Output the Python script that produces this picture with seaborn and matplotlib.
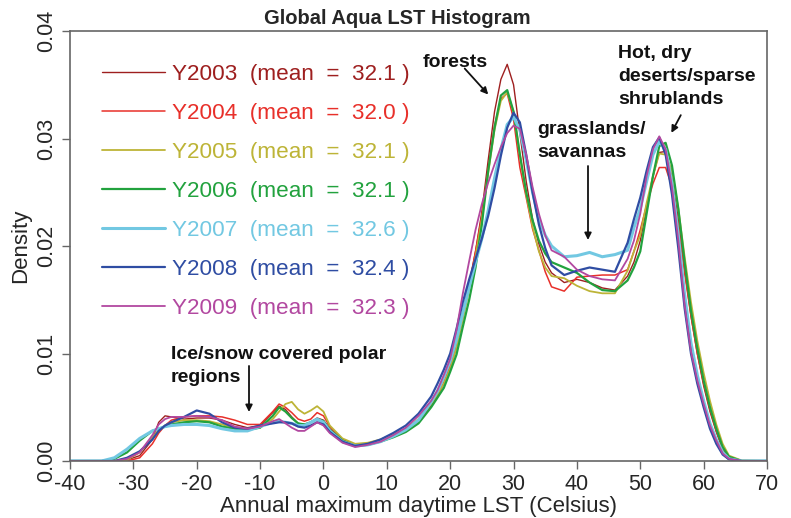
import numpy as np
import pandas as pd
import matplotlib
matplotlib.use("Agg")
import matplotlib.pyplot as plt
import seaborn as sns

lst = [-40, -35, -33, -31, -29, -27, -26, -25, -24, -22, -20, -18, -16, -14, -12, -10, -8,
       -7, -6, -5, -4, -3, -2, -1, 0, 1, 3, 5, 7, 9, 11, 13, 15,
       17, 18, 19, 20, 21, 22, 23, 24, 25, 26, 27, 28, 29, 30, 31, 32, 33, 34, 35, 36,
       38, 40, 42, 44, 46, 48,
       49, 50, 51, 52, 53, 54, 55, 56, 57, 58, 59, 60, 61, 62, 63, 64, 66, 70]

# density values x 1e-3
y2003 = [0, 0, 0, 0.1, 0.5, 2.0, 3.6, 4.2, 4.1, 3.9, 4.0, 4.0, 3.8, 3.4, 3.1, 3.3, 4.5,
         5.1, 4.8, 4.1, 3.5, 3.4, 3.6, 4.0, 3.8, 3.0, 2.0, 1.5, 1.5, 1.8, 2.3, 2.8, 3.7,
         5.2, 6.1, 7.2, 8.7, 10.7, 13.5, 16.3, 19.5, 23.2, 28.0, 32.5, 35.5, 36.9, 35.0, 30.5, 26.0, 22.5, 20.2, 18.5, 17.5,
         16.6, 16.9, 16.6, 16.1, 15.9, 17.2,
         18.5, 20.5, 23.5, 26.5, 28.7, 28.8, 26.5, 22.5, 17.8, 13.5, 10.0, 7.0, 4.6, 2.7, 1.1, 0.3, 0, 0]
y2004 = [0, 0, 0, 0, 0.3, 1.6, 2.6, 3.3, 3.8, 4.1, 4.2, 4.2, 4.1, 3.8, 3.4, 3.4, 4.6,
         5.3, 5.0, 4.5, 3.9, 3.7, 3.9, 4.5, 4.2, 3.2, 2.0, 1.4, 1.5, 1.8, 2.3, 2.9, 3.8,
         5.3, 6.2, 7.3, 8.9, 10.9, 13.8, 16.5, 19.5, 22.8, 27.2, 31.2, 33.7, 34.2, 31.8, 27.3, 24.5, 21.6, 19.6, 17.6, 16.2,
         15.8, 17.1, 17.2, 17.3, 17.3, 17.8,
         19.5, 21.5, 23.8, 25.8, 27.3, 27.3, 25.5, 22.0, 17.5, 13.5, 10.0, 7.2, 4.8, 2.8, 1.2, 0.3, 0, 0]
y2005 = [0, 0, 0, 0.1, 0.8, 2.2, 2.9, 3.3, 3.6, 3.8, 3.8, 3.7, 3.4, 3.1, 3.0, 3.1, 3.9,
         4.6, 5.3, 5.5, 4.8, 4.4, 4.7, 5.1, 4.6, 3.3, 2.1, 1.6, 1.7, 2.0, 2.5, 3.0, 3.9,
         5.3, 6.2, 7.2, 8.6, 10.5, 13.2, 16.0, 19.0, 22.5, 26.8, 30.8, 33.5, 34.3, 32.5, 28.5, 24.8, 21.8, 19.5, 18.0, 17.2,
         17.0, 16.3, 15.8, 15.6, 15.6, 17.7,
         19.5, 21.0, 24.0, 26.5, 28.6, 28.5, 27.0, 23.5, 19.0, 14.8, 11.2, 8.2, 5.6, 3.4, 1.6, 0.5, 0.05, 0]
y2006 = [0, 0, 0.2, 0.8, 1.9, 2.8, 3.0, 3.2, 3.4, 3.6, 3.7, 3.6, 3.2, 3.0, 2.9, 3.1, 4.2,
         5.0, 4.6, 4.0, 3.5, 3.4, 3.6, 3.9, 3.7, 2.9, 1.9, 1.4, 1.5, 1.8, 2.2, 2.7, 3.5,
         5.0, 5.9, 6.8, 8.3, 9.9, 12.5, 15.0, 18.0, 22.0, 27.0, 31.0, 34.0, 34.5, 32.5, 28.5, 25.0, 22.4, 20.5, 19.3, 18.5,
         18.0, 17.5, 16.6, 15.9, 15.8, 16.8,
         18.0, 19.5, 23.0, 26.5, 29.3, 29.6, 27.5, 23.5, 18.5, 14.0, 10.5, 7.5, 5.0, 3.0, 1.3, 0.4, 0, 0]
y2007 = [0, 0, 0.3, 1.1, 2.1, 2.8, 3.0, 3.2, 3.3, 3.4, 3.4, 3.3, 3.0, 2.8, 2.8, 3.2, 3.6,
         3.7, 3.6, 3.5, 3.3, 3.3, 3.6, 3.9, 3.6, 2.8, 1.8, 1.4, 1.5, 1.8, 2.3, 2.9, 3.8,
         5.5, 6.5, 7.8, 9.3, 11.3, 13.8, 16.2, 18.5, 20.7, 23.3, 26.3, 29.0, 31.3, 32.0, 30.8, 28.0, 25.0, 22.5, 21.0, 20.0,
         19.0, 19.1, 19.4, 19.0, 19.2, 19.6,
         21.7, 23.5, 26.0, 28.5, 29.7, 29.0, 25.8, 21.0, 15.5, 11.0, 8.0, 5.6, 3.5, 2.0, 0.8, 0.2, 0, 0]
y2008 = [0, 0, 0, 0.3, 0.9, 2.0, 2.8, 3.3, 3.6, 4.1, 4.7, 4.4, 3.6, 3.1, 3.0, 3.3, 3.5,
         3.6, 3.6, 3.5, 3.2, 3.1, 3.3, 3.6, 3.4, 2.7, 1.8, 1.4, 1.6, 2.0, 2.6, 3.3, 4.4,
         6.0, 7.2, 8.5, 10.0, 12.3, 14.8, 16.9, 18.8, 20.7, 22.8, 25.4, 28.4, 31.0, 32.4, 31.5, 28.5, 25.0, 22.0, 19.8, 18.2,
         17.3, 17.7, 18.0, 17.8, 17.6, 20.3,
         22.5, 24.5, 27.0, 29.2, 30.1, 28.5, 24.8, 19.8, 14.2, 10.0, 7.2, 5.0, 3.0, 1.6, 0.6, 0.15, 0, 0]
y2009 = [0, 0, 0, 0.2, 0.8, 2.4, 3.4, 3.9, 4.1, 4.1, 4.2, 4.1, 3.8, 3.2, 3.0, 3.2, 3.7,
         3.9, 3.5, 3.1, 2.8, 2.8, 3.2, 3.6, 3.3, 2.6, 1.7, 1.3, 1.5, 1.8, 2.4, 3.1, 4.2,
         5.6, 6.6, 8.0, 9.5, 12.2, 15.6, 18.6, 21.5, 23.9, 25.9, 27.6, 29.2, 30.5, 31.2, 30.9, 28.5, 25.5, 23.0, 21.0, 19.6,
         19.0, 17.8, 17.2, 16.9, 16.8, 18.8,
         20.5, 23.0, 26.5, 29.0, 30.2, 29.0, 25.5, 20.5, 14.5, 10.2, 7.5, 5.3, 3.3, 1.9, 0.7, 0.2, 0, 0]

years = ["Y2003", "Y2004", "Y2005", "Y2006", "Y2007", "Y2008", "Y2009"]
means = ["32.1", "32.0", "32.1", "32.1", "32.6", "32.4", "32.3"]
series = [y2003, y2004, y2005, y2006, y2007, y2008, y2009]
colors = ["#9E1F1F", "#E8302A", "#BDB437", "#22A23E", "#72C8E2", "#2F4DA3", "#B248A0"]
widths = [1.0, 1.1, 1.3, 1.6, 2.2, 1.6, 1.3]

rows = []
for year, vals in zip(years, series):
    for t, v in zip(lst, vals):
        rows.append({"LST": t, "Density": v / 1000.0, "Year": year})
df = pd.DataFrame(rows)

sns.set_style("ticks")
plt.rcParams["font.family"] = ["Liberation Sans", "DejaVu Sans"]
plt.rcParams["axes.unicode_minus"] = False

fig = plt.figure(figsize=(7.91, 5.18), dpi=100)
ax = fig.add_axes([70 / 791, 1 - 461 / 518, 697 / 791, 430 / 518])

for year, col, lw in zip(years, colors, widths):
    sns.lineplot(data=df[df["Year"] == year], x="LST", y="Density", color=col,
                 linewidth=lw, ax=ax, label=year)

ax.set_xlim(-40, 70)
ax.set_ylim(0, 0.04)
ax.set_xticks(range(-40, 71, 10))
ax.set_yticks([0.0, 0.01, 0.02, 0.03, 0.04])
ax.set_yticklabels(["0.00", "0.01", "0.02", "0.03", "0.04"], rotation=90, va="center")
ax.tick_params(direction="out", length=6, width=1, color="#666666", labelsize=15.5, pad=3)
for s in ax.spines.values():
    s.set_color("#666666")
    s.set_linewidth(1.2)
ax.set_xlabel("Annual maximum daytime LST (Celsius)", fontsize=16, labelpad=1)
ax.set_ylabel("Density", fontsize=16, labelpad=4)
ax.set_title("Global Aqua LST Histogram", fontsize=14.5, fontweight="bold", pad=5, x=0.47)

handles, _ = ax.get_legend_handles_labels()
labels = [f"{y}  (mean  =  {m} )" for y, m in zip(years, means)]
ax.legend(handles, labels, loc="upper left", bbox_to_anchor=(32 / 697, 0.924),
          frameon=False, fontsize=16.2, labelcolor="linecolor", handlelength=2.8,
          handletextpad=0.3, labelspacing=0.8, borderpad=0, borderaxespad=0)

bold = dict(fontsize=14, fontweight="bold", color="#111111", ha="left", va="top",
            linespacing=1.45)
arrow = dict(arrowstyle="-|>", color="#111111", lw=1.3, mutation_scale=10)

ax.text(15.7, 0.0379, "forests", **bold)
ax.annotate("", xy=(26.3, 0.0339), xytext=(22.0, 0.0367), arrowprops=arrow)
ax.text(46.5, 0.0387, "Hot, dry\ndeserts/sparse\nshrublands", **bold)
ax.annotate("", xy=(54.7, 0.0303), xytext=(56.6, 0.0324), arrowprops=arrow)
ax.text(33.7, 0.0316, "grasslands/\nsavannas", **bold)
ax.annotate("", xy=(41.75, 0.0203), xytext=(41.75, 0.0277), arrowprops=arrow)
ax.text(-24.1, 0.0107, "Ice/snow covered polar\nregions", **bold)
ax.annotate("", xy=(-11.75, 0.0043), xytext=(-11.75, 0.0091), arrowprops=arrow)

fig.savefig("out.png", dpi=100)
